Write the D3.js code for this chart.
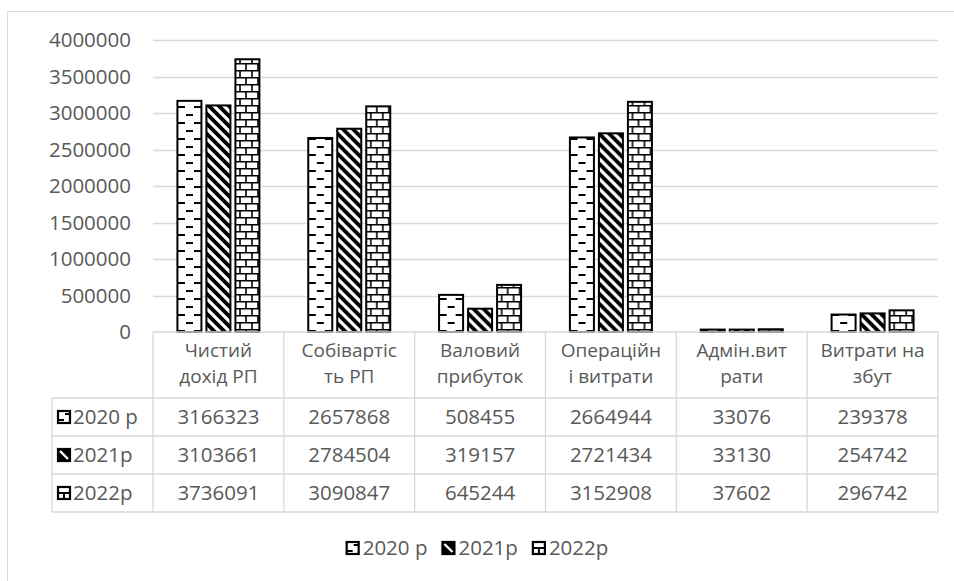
<!DOCTYPE html>
<html lang="uk">
<head>
  <meta charset="UTF-8">
  <title>Показники 2020-2022</title>
  <script src="https://d3js.org/d3.v7.min.js"></script>
  <style>
    body { margin: 0; background: #fff; }
    svg { display: block; font-family: "Open Sans", sans-serif; }
    text { fill: #595959; font-size: 20.5px; }
    .head { font-size: 19px; }
  </style>
</head>
<body>
  <div id="chart"></div>
  <script>
    // дані
    const categories = ["Чистий\nдохід РП", "Собівартіс\nть РП", "Валовий\nприбуток",
                        "Операційн\nі витрати", "Адмін.вит\nрати", "Витрати на\nзбут"];
    const series = ["2020 р", "2021р", "2022р"];
    const values2020 = [3166323, 2657868, 508455, 2664944, 33076, 239378];
    const values2021 = [3103661, 2784504, 319157, 2721434, 33130, 254742];
    const values2022 = [3736091, 3090847, 645244, 3152908, 37602, 296742];
    const yTicks = [0, 500000, 1000000, 1500000, 2000000, 2500000, 3000000, 3500000, 4000000];

    const allValues = [values2020, values2021, values2022];
    const W = 954, H = 581;
    const plotLeft = 153, plotRight = 938, plotTop = 40, plotBottom = 332;
    const headerBottom = 398, rowH = 38, labelLeft = 52;
    const grid = "#d9d9d9";

    const svg = d3.select("#chart").append("svg")
      .attr("width", W).attr("height", H);

    // візерунки
    const defs = svg.append("defs");
    const pDash = defs.append("pattern").attr("id", "p0")
      .attr("patternUnits", "userSpaceOnUse").attr("width", 16).attr("height", 16);
    pDash.append("rect").attr("width", 16).attr("height", 16).attr("fill", "#fff");
    pDash.append("path").attr("d", "M1,3h7M9,11h7").attr("stroke", "#000").attr("stroke-width", 2);

    const pDiag = defs.append("pattern").attr("id", "p1")
      .attr("patternUnits", "userSpaceOnUse").attr("width", 10).attr("height", 10);
    pDiag.append("rect").attr("width", 10).attr("height", 10).attr("fill", "#fff");
    pDiag.append("path").attr("d", "M-5,-5L15,15M-5,5L5,15M5,-5L15,5")
      .attr("stroke", "#000").attr("stroke-width", 3.8);

    const pBrick = defs.append("pattern").attr("id", "p2")
      .attr("patternUnits", "userSpaceOnUse").attr("width", 12).attr("height", 14);
    pBrick.append("rect").attr("width", 12).attr("height", 14).attr("fill", "#fff");
    pBrick.append("path").attr("d", "M0,0.75h12M0,7.75h12M3,0v7M9,7v7")
      .attr("stroke", "#000").attr("stroke-width", 1.6);

    // значки для легенди
    const icons = [
      "M0,9h6M7,3h5",
      "M0,0L12,12M-6,0L6,12M6,0L18,12",
      "M0,6h12M6,6v6"
    ];
    function drawIcon(g, si, x0, y0) {
      g.append("rect").attr("x", x0).attr("y", y0).attr("width", 12).attr("height", 12)
        .attr("fill", si === 1 ? "#000" : "#fff").attr("stroke", "#000").attr("stroke-width", 2.2);
      g.append("path").attr("transform", `translate(${x0},${y0})`)
        .attr("d", si === 1 ? "M2,2L10,10" : icons[si])
        .attr("stroke", si === 1 ? "#fff" : "#000").attr("stroke-width", si === 1 ? 2.4 : 2);
    }

    // рамка
    svg.append("rect").attr("x", 7.5).attr("y", 11.5).attr("width", 1000).attr("height", 700)
      .attr("fill", "none").attr("stroke", grid);

    const x = d3.scaleBand().domain(categories).range([plotLeft, plotRight]);
    const xs = d3.scaleBand().domain(series)
      .range([x.bandwidth() / 2 - 41, x.bandwidth() / 2 + 41]).paddingInner(5 / 29);
    const y = d3.scaleLinear().domain([0, 4000000]).range([plotBottom, plotTop]);

    // сітка
    svg.append("g").selectAll("line").data(yTicks.slice(1)).join("line")
      .attr("x1", plotLeft).attr("x2", plotRight)
      .attr("y1", d => Math.round(y(d)) + 0.5).attr("y2", d => Math.round(y(d)) + 0.5)
      .attr("stroke", grid).attr("stroke-width", 1.3);

    const yAxis = svg.append("g").attr("transform", "translate(131,0)")
      .call(d3.axisLeft(y).tickValues(yTicks).tickFormat(d3.format("d")).tickSize(0).tickPadding(0));
    yAxis.select(".domain").remove();
    yAxis.selectAll("text").attr("fill", "#595959").style("font-size", "20.5px")
      .style("font-family", "Open Sans");

    // стовпці
    const groups = svg.append("g").selectAll("g").data(categories).join("g")
      .attr("transform", d => `translate(${x(d)},0)`);
    groups.selectAll("rect")
      .data((c, ci) => series.map((s, si) => ({ s, si, v: allValues[si][ci] })))
      .join("rect")
      .attr("x", d => xs(d.s))
      .attr("y", d => y(d.v))
      .attr("width", xs.bandwidth())
      .attr("height", d => plotBottom - y(d.v))
      .attr("fill", d => `url(#p${d.si})`)
      .attr("stroke", "#000").attr("stroke-width", 2);

    // таблиця даних
    const tbl = svg.append("g").attr("stroke", grid).attr("stroke-width", 1.3);
    tbl.append("line").attr("x1", plotLeft).attr("x2", plotRight)
      .attr("y1", plotBottom).attr("y2", plotBottom);
    [0, 1, 2, 3].forEach(i => {
      tbl.append("line").attr("x1", labelLeft).attr("x2", plotRight)
        .attr("y1", headerBottom + i * rowH).attr("y2", headerBottom + i * rowH);
    });
    tbl.append("line").attr("x1", labelLeft).attr("x2", labelLeft)
      .attr("y1", headerBottom).attr("y2", headerBottom + 3 * rowH);
    tbl.selectAll(".v").data(categories.concat(["end"])).join("line")
      .attr("x1", (d, i) => plotLeft + i * x.bandwidth())
      .attr("x2", (d, i) => plotLeft + i * x.bandwidth())
      .attr("y1", plotBottom).attr("y2", headerBottom + 3 * rowH);

    // заголовки категорій (по рядку на текст)
    categories.forEach(c => {
      c.split("\n").forEach((line, i) => {
        svg.append("text").attr("class", "head")
          .attr("text-anchor", "middle")
          .attr("x", x(c) + x.bandwidth() / 2)
          .attr("y", 357 + i * 26).text(line);
      });
    });

    // значення
    series.forEach((s, si) => {
      const cy = headerBottom + si * rowH + rowH / 2 + 7;
      svg.append("g").selectAll("text").data(allValues[si]).join("text")
        .attr("text-anchor", "middle")
        .attr("x", (d, i) => x(categories[i]) + x.bandwidth() / 2)
        .attr("y", cy).text(d => d);
      drawIcon(svg, si, 58, cy - 13);
      svg.append("text").attr("x", 73).attr("y", cy).text(s);
    });

    // легенда
    const legend = svg.append("g");
    let lx = 0;
    series.forEach((s, si) => {
      const item = legend.append("g").attr("transform", `translate(${lx},0)`);
      drawIcon(item, si, 1, -13);
      const t = item.append("text").attr("x", 17).attr("y", 0).text(s);
      lx += 17 + t.node().getComputedTextLength() + 14;
    });
    legend.attr("transform", `translate(${477 - (lx - 14) / 2},555)`);
  </script>
</body>
</html>
